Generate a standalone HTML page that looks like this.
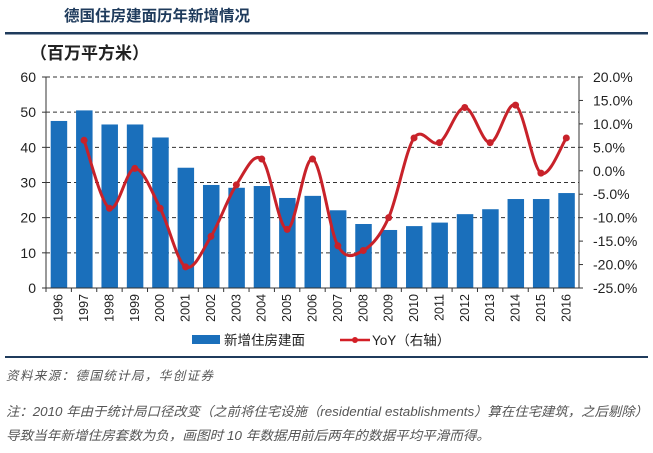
<!DOCTYPE html>
<html><head><meta charset="utf-8"><style>
body{margin:0;width:653px;height:448px;background:#fff;overflow:hidden;font-family:"Liberation Sans","Noto Sans CJK SC",sans-serif;}
svg text{font-family:"Liberation Sans","Noto Sans CJK SC",sans-serif;}
</style></head><body>
<svg id="c" width="653" height="448">
<text x="64" y="21" font-size="15.5" font-weight="bold" fill="#1f3b5c">德国住房建面历年新增情况</text>
<rect x="5" y="32" width="643" height="2.5" fill="#1f3b5c"/>
<text x="30" y="59" font-size="17" font-weight="bold" fill="#222">（百万平方米）</text>
<g id="grid"></g><g id="bars"></g><g id="axes"></g><g id="line"></g>
<g>
<rect x="192" y="335" width="28" height="9" fill="#1a6fbb"/>
<text x="224" y="345" font-size="13.5" fill="#222">新增住房建面</text>
<line x1="340" y1="340" x2="370" y2="340" stroke="#d31f26" stroke-width="2.5"/>
<circle cx="355" cy="340" r="3" fill="#d31f26"/>
<text x="372" y="345" font-size="13.5" fill="#222">YoY（右轴）</text>
</g>
<rect x="5" y="356" width="643" height="2" fill="#1f3b5c"/>
<text x="6" y="380" font-size="12.5" font-style="italic" fill="#555" textLength="207">资料来源：德国统计局，华创证券</text>
<text x="6" y="416" font-size="13" font-style="italic" fill="#555" textLength="642" lengthAdjust="spacingAndGlyphs">注：2010 年由于统计局口径改变（之前将住宅设施（residential establishments）算在住宅建筑，之后剔除）</text>
<text x="6" y="440" font-size="13" font-style="italic" fill="#555" textLength="484" lengthAdjust="spacingAndGlyphs">导致当年新增住房套数为负，画图时 10 年数据用前后两年的数据平均平滑而得。</text>
</svg>
<script>
const years=["1996","1997","1998","1999","2000","2001","2002","2003","2004","2005","2006","2007","2008","2009","2010","2011","2012","2013","2014","2015","2016"];
const areaValues=[47.5,50.5,46.5,46.5,42.8,34.2,29.3,28.5,29,25.6,26.2,22.1,18.2,16.5,17.6,18.6,21,22.4,25.3,25.3,27];
const yoyValues=[null,6.5,-8,0.5,-8,-20.5,-14,-3,2.5,-12.5,2.5,-16,-17,-10,7,6,13.5,6,14,-0.5,7];
const leftTicks=[0,10,20,30,40,50,60];
const rightTicks=[20,15,10,5,0,-5,-10,-15,-20,-25];
const NS="http://www.w3.org/2000/svg";
const L=46,R=579,T=77,B=288;
const band=(R-L)/years.length;
const xc=i=>L+band*(i+0.5);
const yL=v=>B-(v/60)*(B-T);
const yR=v=>B-((v+25)/45)*(B-T);
function mk(p,tag,a){const e=document.createElementNS(NS,tag);for(const k in a)e.setAttribute(k,a[k]);document.getElementById(p).appendChild(e);return e;}
leftTicks.forEach(v=>{
 if(v>0){const g=mk('grid','line',{x1:L,x2:R,y1:yL(v),y2:yL(v),stroke:'#333','stroke-dasharray':'4,3','stroke-width':1});
 
 }
 const t=mk('axes','text',{x:L-10,y:yL(v)+5,'text-anchor':'end','font-size':14,fill:'#222'});t.textContent=v;
 
 
 mk('axes','line',{x1:L-4,x2:L,y1:yL(v),y2:yL(v),stroke:'#333'});
});
rightTicks.forEach(v=>{
 const t=mk('axes','text',{x:R+14,y:yR(v)+5,'font-size':14,fill:'#222'});t.textContent=v.toFixed(1)+'%';
 
 
 mk('axes','line',{x1:R,x2:R+4,y1:yR(v),y2:yR(v),stroke:'#333'});
});
areaValues.forEach((v,i)=>{
 const r=mk('bars','rect',{x:xc(i)-8,y:yL(v),width:16.5,height:B-yL(v),fill:'#1a6fbb'});
 
 
});
mk('axes','line',{x1:L,x2:L,y1:T,y2:B,stroke:'#333'});
mk('axes','line',{x1:R,x2:R,y1:T,y2:B,stroke:'#333'});
mk('axes','line',{x1:L,x2:R,y1:B,y2:B,stroke:'#333'});
years.forEach((y,i)=>{
 mk('axes','line',{x1:L+band*i,x2:L+band*i,y1:B,y2:B+4,stroke:'#333'});
 const t=mk('axes','text',{x:0,y:0,'font-size':12.5,fill:'#222','text-anchor':'end',transform:`translate(${xc(i)+4},${B+6}) rotate(-90)`});t.textContent=y;
 
 
});
const pts=[];yoyValues.forEach((v,i)=>{if(v!==null)pts.push([xc(i),yR(v)]);});
let d=`M${pts[0][0]},${pts[0][1]}`;
for(let i=0;i<pts.length-1;i++){const p0=pts[Math.max(0,i-1)],p1=pts[i],p2=pts[i+1],p3=pts[Math.min(pts.length-1,i+2)];
 d+=` C${p1[0]+(p2[0]-p0[0])/6},${p1[1]+(p2[1]-p0[1])/6} ${p2[0]-(p3[0]-p1[0])/6},${p2[1]-(p3[1]-p1[1])/6} ${p2[0]},${p2[1]}`;}
const pa=mk('line','path',{d:d,fill:'none',stroke:'#c8222a','stroke-width':3});


pts.forEach(p=>{const c=mk('line','circle',{cx:p[0],cy:p[1],r:3.5,fill:'#c8222a'});
 
 });
</script>
</body></html>
